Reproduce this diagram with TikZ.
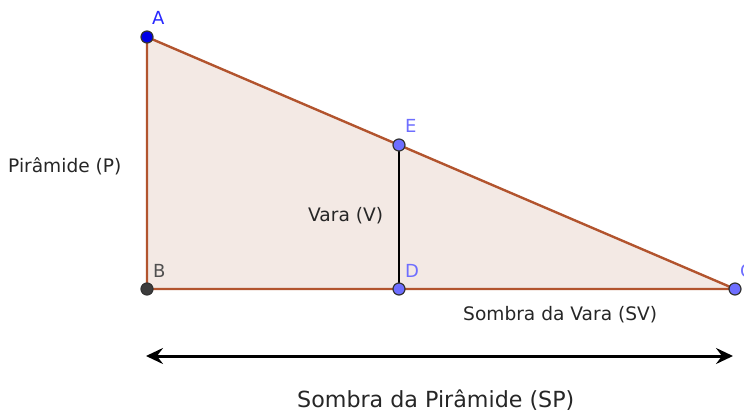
\documentclass[tikz,border=0pt]{standalone}
\usepackage{fontspec}
\setmainfont{DejaVu Sans}
\usetikzlibrary{arrows.meta}
\definecolor{edgebrown}{RGB}{178,84,46}
\definecolor{fillpink}{RGB}{243,233,228}
\definecolor{ptblue}{RGB}{0,0,230}
\definecolor{lblblue}{RGB}{40,40,255}
\definecolor{ptlight}{RGB}{110,110,255}
\definecolor{ptgrey}{RGB}{60,60,60}
\definecolor{lblgrey}{RGB}{80,80,80}
\begin{document}
\begin{tikzpicture}[x=1pt,y=-1pt,
  pt/.style={circle,draw=black!80,line width=1.2pt,inner sep=0pt,minimum size=12pt},
  lbl/.style={font=\fontsize{18}{20}\selectfont,inner sep=0pt,anchor=base west},
  txt/.style={font=\fontsize{18.6}{22}\selectfont,text=black!85,inner sep=0pt,anchor=base west}]
\useasboundingbox (0,0) rectangle (744,412);
\coordinate (A) at (147,37);
\coordinate (B) at (147,289);
\coordinate (C) at (735,289);
\coordinate (D) at (399,289);
\coordinate (E) at (399,145);
\fill[fillpink] (A) -- (B) -- (C) -- cycle;
\draw[edgebrown,line width=2.4pt] (A) -- (B) -- (C) -- cycle;
\draw[black,line width=2.4pt] (E) -- (D);
\node[pt,fill=ptblue] (pA) at (A) {};
\node[pt,fill=ptgrey] (pB) at (B) {};
\node[pt,fill=ptlight] (pC) at (C) {};
\node[pt,fill=ptlight] (pD) at (D) {};
\node[pt,fill=ptlight] (pE) at (E) {};
\node[lbl,text=lblblue] (lA) at (152,25) {A};
\node[lbl,text=lblgrey] (lB) at (153,277) {B};
\node[lbl,text=ptlight] (lC) at (740,277) {C};
\node[lbl,text=ptlight] (lD) at (405,277) {D};
\node[lbl,text=ptlight] (lE) at (405,132) {E};
\node[txt] (tP) at (8,172) {Pirâmide (P)};
\node[txt] (tV) at (308,221) {Vara (V)};
\node[txt] (tSV) at (463,320) {Sombra da Vara (SV)};
\node[txt,font=\fontsize{22.2}{26}\selectfont] (tSP) at (297,407) {Sombra da Pirâmide (SP)};
\coordinate (L) at (146,356);
\coordinate (R) at (733,356);
\draw[line width=3pt,{Stealth[length=17pt,width=16pt,inset=6pt]}-{Stealth[length=17pt,width=16pt,inset=6pt]}] (L) -- (R);
\end{tikzpicture}
\end{document}
